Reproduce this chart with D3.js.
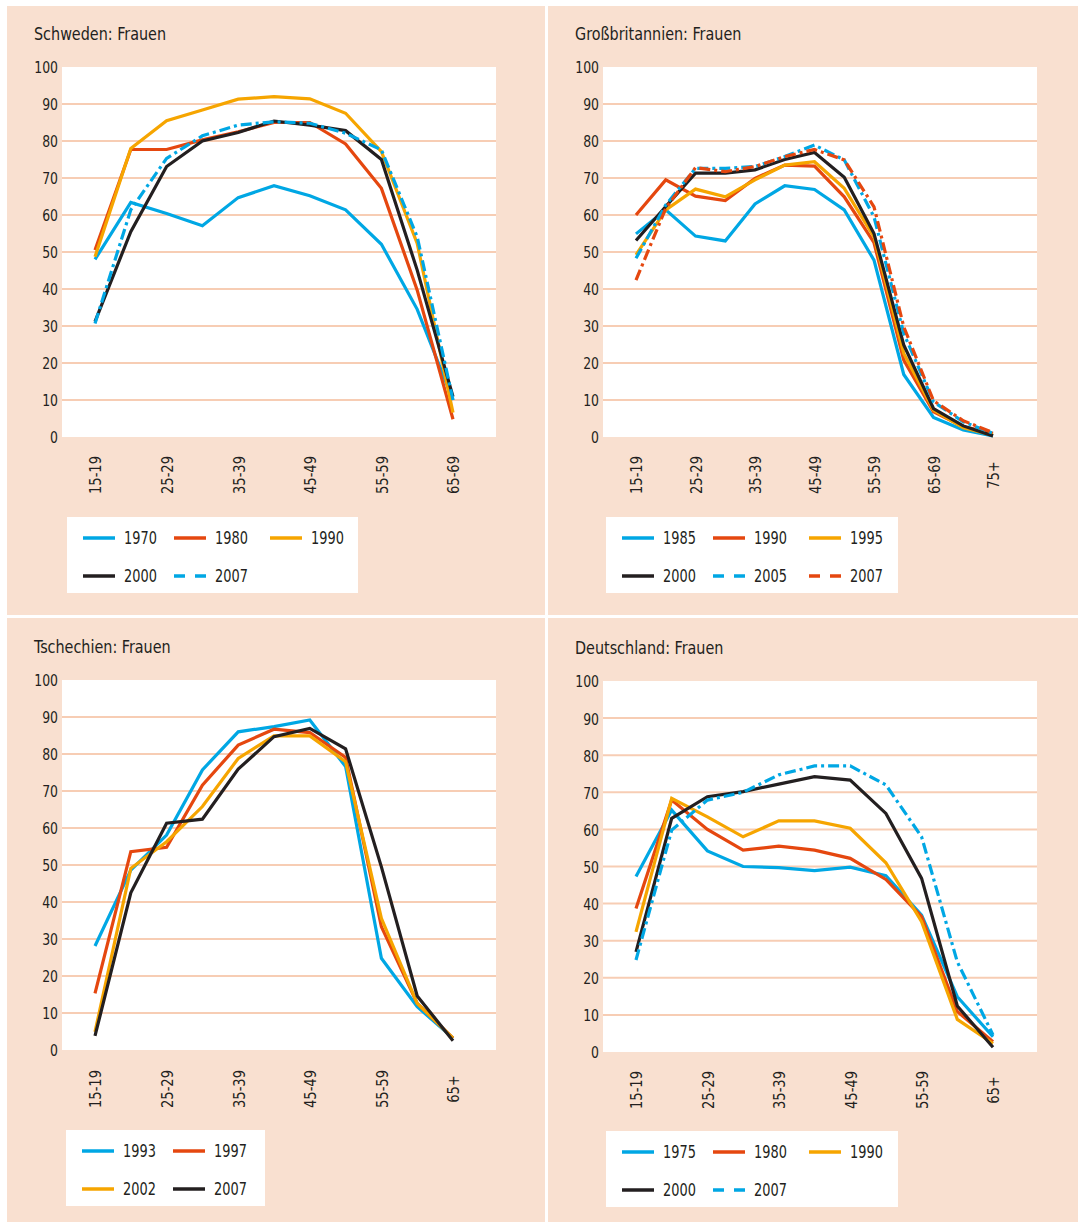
<!DOCTYPE html>
<html><head><meta charset="utf-8">
<script src="https://cdn.jsdelivr.net/npm/d3@7"></script>
<style>
html,body{margin:0;padding:0;background:#fff;}
svg text{font-family:'Liberation Sans Narrow','Arial Narrow','DejaVu Sans Condensed',sans-serif;fill:#231f20;}
</style></head><body>
<script>
// ---- Data ----
const ageCats11 = ["15-19","20-24","25-29","30-34","35-39","40-44","45-49","50-54","55-59","60-64","65-69"];
const ageCats11p = ["15-19","20-24","25-29","30-34","35-39","40-44","45-49","50-54","55-59","60-64","65+"];
const ageCats13 = ["15-19","20-24","25-29","30-34","35-39","40-44","45-49","50-54","55-59","60-64","65-69","70-74","75+"];
const yTicks = [0,10,20,30,40,50,60,70,80,90,100];

// Schweden
const swYears = ["1970","1980","1990","2000","2007"];
const sw1970 = [48.0,63.4,60.4,57.1,64.7,67.9,65.2,61.4,52.1,34.5,10.0];
const sw1980 = [50.5,77.7,77.7,80.3,82.5,85.0,85.0,79.2,67.2,39.7,4.8];
const sw1990 = [48.7,78.0,85.5,88.4,91.3,92.0,91.4,87.5,77.1,52.3,6.6];
const sw2000 = [31.2,55.5,73.1,80.0,82.3,85.4,84.3,82.8,75.0,45.1,10.9];
const sw2007 = [30.7,61.4,75.3,81.4,84.3,85.2,84.8,82.1,77.6,54.1,10.0];

// Großbritannien
const gbYears = ["1985","1990","1995","2000","2005","2007"];
const gb1985 = [54.9,61.4,54.3,53.0,63.0,67.9,66.9,61.4,47.8,16.9,5.3,1.9,0.3];
const gb1990 = [60.0,69.5,65.1,63.9,69.9,73.5,73.2,64.9,52.5,20.8,6.8,2.8,1.0];
const gb1995 = [49.2,61.4,67.0,64.9,69.5,73.5,74.4,67.2,54.1,22.6,7.3,2.5,0.5];
const gb2000 = [53.1,62.3,71.3,71.3,72.2,75.0,76.9,70.2,55.0,24.9,7.7,3.0,0.3];
const gb2005 = [48.3,62.7,72.6,72.6,73.1,75.8,78.9,74.9,59.5,28.0,9.5,4.1,1.0];
const gb2007 = [42.4,61.8,72.8,71.7,73.1,75.8,77.7,74.9,62.2,29.8,9.8,4.4,1.2];

// Tschechien
const czYears = ["1993","1997","2002","2007"];
const cz1993 = [28.1,48.6,58.1,75.7,86.0,87.4,89.2,76.6,24.8,11.7,3.2];
const cz1997 = [15.3,53.6,54.8,71.6,82.4,86.7,85.8,79.1,33.3,12.6,3.2];
const cz2002 = [4.9,49.1,56.3,65.8,78.8,84.9,84.9,77.9,35.6,12.6,3.2];
const cz2007 = [3.8,42.5,61.3,62.4,75.9,84.7,86.9,81.4,49.5,14.6,2.5];

// Deutschland
const deYears = ["1975","1980","1990","2000","2007"];
const de1975 = [47.3,65.2,54.2,50.0,49.7,48.9,49.8,47.5,36.9,14.9,4.1];
const de1980 = [38.7,67.9,60.0,54.4,55.5,54.4,52.2,46.5,36.5,10.9,2.8];
const de1990 = [32.4,68.4,63.4,58.0,62.3,62.3,60.3,51.0,35.1,8.8,2.3];
const de2000 = [27.0,63.0,68.8,70.2,72.2,74.2,73.3,64.3,46.8,12.4,1.3];
const de2007 = [24.8,59.8,67.9,70.0,74.7,77.1,77.1,72.0,58.0,24.3,4.6];

// ---- Styles ----
const C = {blue:"#00a7e4", red:"#e5470f", orange:"#f6a500", black:"#231f20"};
const BG = "#f9e0d0", GRID = "#f7cdb4";
const PLOTDASH = "11,4,3,4", LEGDASH = "11,10";
const FONT = "'Liberation Sans Narrow','Arial Narrow','DejaVu Sans Condensed',sans-serif";

const panels = [
  {title:"Schweden: Frauen", px:7, py:6, pw:538, ph:609, tx:34, ty:40,
   plot:{x0:62,x1:496,y0:67,y1:437}, xr:[95,453], lab:475,
   cats:ageCats11,
   series:[{n:swYears[0],v:sw1970,c:C.blue},{n:swYears[1],v:sw1980,c:C.red},{n:swYears[2],v:sw1990,c:C.orange},{n:swYears[3],v:sw2000,c:C.black},{n:swYears[4],v:sw2007,c:C.blue,d:true}],
   leg:{x:67,y:517,w:291,h:76}},
  {title:"Großbritannien: Frauen", px:548, py:6, pw:530, ph:609, tx:575, ty:40,
   plot:{x0:603,x1:1037,y0:67,y1:437}, xr:[636,993], lab:475,
   cats:ageCats13,
   series:[{n:gbYears[0],v:gb1985,c:C.blue},{n:gbYears[1],v:gb1990,c:C.red},{n:gbYears[2],v:gb1995,c:C.orange},{n:gbYears[3],v:gb2000,c:C.black},{n:gbYears[4],v:gb2005,c:C.blue,d:true},{n:gbYears[5],v:gb2007,c:C.red,d:true}],
   leg:{x:606,y:517,w:292,h:76}},
  {title:"Tschechien: Frauen", px:7, py:618, pw:538, ph:604, tx:34, ty:653,
   plot:{x0:62,x1:496,y0:680,y1:1050}, xr:[95,453], lab:1089,
   cats:ageCats11p,
   series:[{n:czYears[0],v:cz1993,c:C.blue},{n:czYears[1],v:cz1997,c:C.red},{n:czYears[2],v:cz2002,c:C.orange},{n:czYears[3],v:cz2007,c:C.black}],
   leg:{x:66,y:1130,w:199,h:76}, legCols:2},
  {title:"Deutschland: Frauen", px:548, py:618, pw:530, ph:604, tx:575, ty:654,
   plot:{x0:603,x1:1037,y0:681,y1:1052}, xr:[636,993], lab:1090,
   cats:ageCats11p,
   series:[{n:deYears[0],v:de1975,c:C.blue},{n:deYears[1],v:de1980,c:C.red},{n:deYears[2],v:de1990,c:C.orange},{n:deYears[3],v:de2000,c:C.black},{n:deYears[4],v:de2007,c:C.blue,d:true}],
   leg:{x:606,y:1131,w:292,h:76}}
];

const svg = d3.select("body").append("svg").attr("width",1080).attr("height",1222);
svg.append("rect").attr("width",1080).attr("height",1222).attr("fill","#fff");

panels.forEach(p=>{
  const g = svg.append("g");
  g.append("rect").attr("x",p.px).attr("y",p.py).attr("width",p.pw).attr("height",p.ph).attr("fill",BG);
  g.append("text").attr("transform",`translate(${p.tx},${p.ty}) scale(0.94,1)`).attr("font-size","17px").text(p.title);
  const pl = p.plot;
  g.append("rect").attr("x",pl.x0).attr("y",pl.y0).attr("width",pl.x1-pl.x0).attr("height",pl.y1-pl.y0).attr("fill","#fff");
  const y = d3.scaleLinear().domain([0,100]).range([pl.y1,pl.y0]);
  const x = d3.scalePoint().domain(p.cats).range(p.xr);
  // grid
  g.append("g").selectAll("line").data(yTicks.filter(t=>t>0&&t<100)).join("line")
    .attr("x1",pl.x0).attr("x2",pl.x1).attr("y1",d=>y(d)).attr("y2",d=>y(d))
    .attr("stroke",GRID).attr("stroke-width",2);
  // y axis
  const ya = g.append("g").attr("transform",`translate(${pl.x0-4},0)`)
    .call(d3.axisLeft(y).tickValues(yTicks).tickSize(0).tickPadding(0));
  ya.select(".domain").remove();
  ya.selectAll("text").attr("x",0).attr("font-size","16.5px").attr("fill","#231f20").attr("dy","0.36em")
    .attr("transform","scale(0.84,1)").style("font-family",FONT);
  // x axis
  const xa = g.append("g").attr("transform",`translate(0,${p.lab})`)
    .call(d3.axisBottom(x).tickValues(p.cats.filter((c,i)=>i%2===0)).tickSize(0).tickPadding(0));
  xa.select(".domain").remove();
  xa.selectAll("text").attr("y",0).attr("dy","0.36em").attr("transform","rotate(-90) scale(0.88,1)")
    .attr("text-anchor","middle").attr("font-size","16.5px").attr("fill","#231f20")
    .style("font-family",FONT);
  // lines
  const line = d3.line().x((d,i)=>x(p.cats[i])).y(d=>y(d));
  p.series.forEach(s=>{
    g.append("path").datum(s.v).attr("d",line).attr("fill","none")
      .attr("stroke",s.c).attr("stroke-width",3.2).attr("stroke-linejoin","miter")
      .attr("stroke-dasharray",s.d?PLOTDASH:null);
  });
  // legend
  const L = p.leg;
  g.append("rect").attr("x",L.x).attr("y",L.y).attr("width",L.w).attr("height",L.h).attr("fill","#fff");
  const cols = p.legCols||3;
  const colOff = [0,91,187];
  p.series.forEach((s,i)=>{
    const col = i%cols, row = Math.floor(i/cols);
    const sx = L.x+16+colOff[col], sy = L.y+21+row*38;
    g.append("line").attr("x1",sx).attr("x2",sx+32).attr("y1",sy).attr("y2",sy)
      .attr("stroke",s.c).attr("stroke-width",3.5).attr("stroke-dasharray",s.d?LEGDASH:null);
    g.append("text").attr("transform",`translate(${sx+41},${sy}) scale(0.82,1)`)
      .attr("dy","0.36em").attr("font-size","17.5px").text(s.n);
  });
});
</script>
</body></html>
